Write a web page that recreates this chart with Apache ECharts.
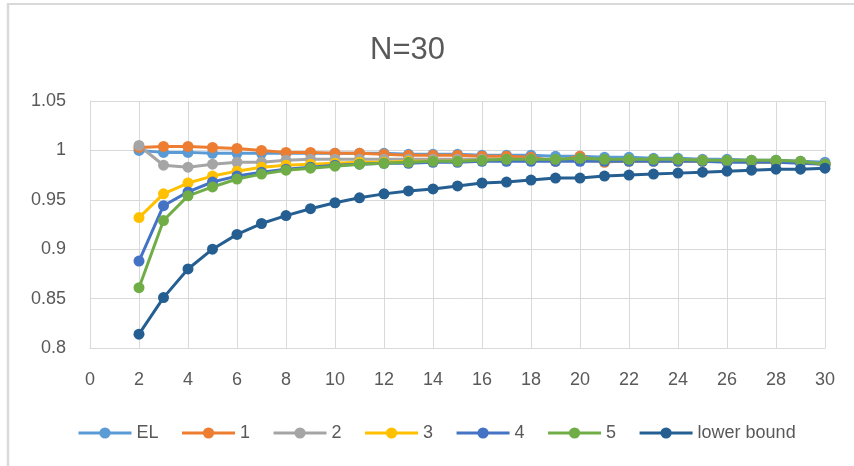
<!DOCTYPE html>
<html>
<head>
<meta charset="utf-8">
<script src="https://cdn.jsdelivr.net/npm/echarts@6/dist/echarts.min.js"></script>
<style>
html,body{margin:0;padding:0;background:#fff;}
#chart{width:854px;height:466px;}
</style>
</head>
<body>
<div id="chart"></div>
<script>
var titleText = "N=30";
var xValues = [2,3,4,5,6,7,8,9,10,11,12,13,14,15,16,17,18,19,20,21,22,23,24,25,26,27,28,29,30];
var seriesNames = ["EL","1","2","3","4","5","lower bound"];
var seriesColors = ["#5B9BD5","#ED7D31","#A5A5A5","#FFC000","#4472C4","#70AD47","#255E91"];
var elValues = [1.000,0.998,0.998,0.997,0.997,0.997,0.997,0.997,0.997,0.997,0.997,0.996,0.996,0.996,0.995,0.995,0.995,0.994,0.994,0.993,0.993,0.992,0.992,0.991,0.991,0.990,0.990,0.989,0.988];
var s1Values = [1.003,1.004,1.004,1.003,1.002,1.000,0.998,0.998,0.997,0.997,0.996,0.995,0.995,0.995,0.994,0.994,0.993,0.989,0.994,0.988,0.990,0.990,0.990,0.990,0.989,0.989,0.988,0.988,0.986];
var s2Values = [1.005,0.985,0.983,0.986,0.988,0.988,0.990,0.991,0.991,0.991,0.991,0.991,0.991,0.991,0.991,0.991,0.991,0.990,0.990,0.990,0.990,0.990,0.990,0.990,0.989,0.989,0.989,0.988,0.986];
var s3Values = [0.932,0.956,0.967,0.974,0.979,0.983,0.985,0.986,0.987,0.988,0.988,0.989,0.989,0.989,0.990,0.990,0.990,0.990,0.990,0.989,0.989,0.989,0.989,0.989,0.989,0.988,0.988,0.988,0.986];
var s4Values = [0.888,0.944,0.958,0.968,0.974,0.978,0.981,0.983,0.985,0.986,0.987,0.987,0.988,0.988,0.989,0.989,0.989,0.989,0.989,0.989,0.989,0.989,0.989,0.989,0.988,0.988,0.988,0.987,0.986];
var s5Values = [0.861,0.929,0.954,0.963,0.971,0.976,0.980,0.982,0.984,0.986,0.987,0.988,0.989,0.989,0.990,0.991,0.991,0.991,0.992,0.991,0.991,0.991,0.991,0.990,0.990,0.990,0.990,0.989,0.986];
var lowerBoundValues = [0.814,0.851,0.880,0.900,0.915,0.926,0.934,0.941,0.947,0.952,0.956,0.959,0.961,0.964,0.967,0.968,0.970,0.972,0.972,0.974,0.975,0.976,0.977,0.978,0.979,0.980,0.981,0.981,0.982];
var allValues = [elValues,s1Values,s2Values,s3Values,s4Values,s5Values,lowerBoundValues];

var textColor = "#595959";
var gridColor = "#D9D9D9";
var fontFam = "Liberation Sans";

var series = seriesNames.map(function(name, i){
  return {
    name: name,
    type: "line",
    data: xValues.map(function(x, j){ return [x, allValues[i][j]]; }),
    symbol: "circle",
    symbolSize: 11,
    showSymbol: true,
    lineStyle: {width: 3, color: seriesColors[i]},
    itemStyle: {color: seriesColors[i]},
    emphasis: {disabled: true},
    animation: false
  };
});

var chart = echarts.init(document.getElementById("chart"), null, {renderer: "canvas"});
chart.setOption({
  backgroundColor: "#ffffff",
  animation: false,
  title: {
    text: titleText,
    left: 365,
    top: 30,
    textStyle: {color: textColor, fontSize: 31, fontWeight: "normal", fontFamily: fontFam}
  },
  grid: {left: 90, right: 29, top: 101, bottom: 118, containLabel: false},
  xAxis: {
    type: "value",
    min: 0, max: 30, interval: 2,
    axisLine: {show: true, lineStyle: {color: gridColor, width: 1}},
    axisTick: {show: false},
    splitLine: {show: true, lineStyle: {color: gridColor, width: 1}},
    axisLabel: {color: textColor, fontSize: 18, fontFamily: fontFam, margin: 23}
  },
  yAxis: {
    type: "value",
    min: 0.8, max: 1.05, interval: 0.05,
    axisLine: {show: true, lineStyle: {color: gridColor, width: 1}},
    axisTick: {show: false},
    splitLine: {show: true, lineStyle: {color: gridColor, width: 1}},
    axisLabel: {color: textColor, fontSize: 18, fontFamily: fontFam, margin: 24,
      formatter: function(v){ return String(Math.round(v*100)/100); }}
  },
  legend: {
    data: seriesNames,
    left: 77,
    top: 424,
    padding: 0,
    itemWidth: 53,
    itemHeight: 14,
    itemGap: 22,
    lineStyle: {width: 3},
    textStyle: {color: textColor, fontSize: 18, fontFamily: fontFam, padding: [0,0,0,0]}
  },
  graphic: [
    {type: "line", shape: {x1: 7, y1: 4, x2: 854, y2: 4}, style: {stroke: gridColor, lineWidth: 2}, silent: true},
    {type: "line", shape: {x1: 8, y1: 3, x2: 8, y2: 466}, style: {stroke: gridColor, lineWidth: 2.5}, silent: true}
  ],
  series: series
});
</script>
</body>
</html>
